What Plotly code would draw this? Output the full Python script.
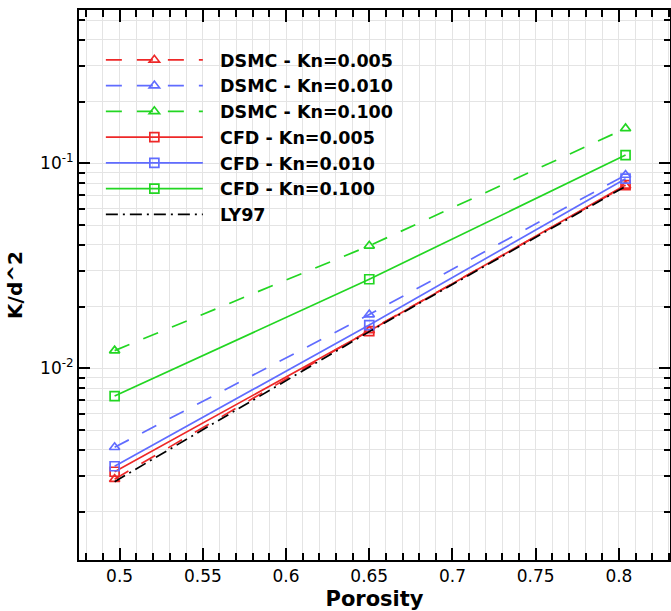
import plotly.graph_objects as go

porosity = [0.497, 0.65, 0.804]

dsmc_kn0005 = [0.00288, 0.0153, 0.0777]
dsmc_kn0010 = [0.00412, 0.0183, 0.0877]
dsmc_kn0100 = [0.0122, 0.0396, 0.148]
cfd_kn0005 = [0.00313, 0.0152, 0.0783]
cfd_kn0010 = [0.00333, 0.01626, 0.0842]
cfd_kn0100 = [0.00732, 0.0272, 0.1097]
ly97 = [0.0028, 0.0151, 0.0772]

x_tickvals = [0.5, 0.55, 0.6, 0.65, 0.7, 0.75, 0.8]
x_ticktext = ["0.5", "0.55", "0.6", "0.65", "0.7", "0.75", "0.8"]
y_tickvals = [0.01, 0.1]
y_ticktext = ["10<sup>-2</sup>", "10<sup>-1</sup>"]

RED = "rgb(238,40,40)"
BLUE = "rgb(96,108,255)"
GREEN = "rgb(34,214,34)"
FONT = "DejaVu Sans"
PAD = "\u00a0\u00a0"

fig = go.Figure()

def add(name, y, color, dash, symbol):
    fig.add_trace(go.Scatter(
        x=porosity, y=y, name=PAD + name, mode="lines+markers",
        line=dict(color=color, width=1.7, dash=dash),
        marker=dict(symbol=symbol, size=9, color=color, line=dict(width=1.7, color=color)),
    ))

DASH = "16px,15px"
add("DSMC - Kn=0.005", dsmc_kn0005, RED, DASH, "triangle-up-open")
add("DSMC - Kn=0.010", dsmc_kn0010, BLUE, DASH, "triangle-up-open")
add("DSMC - Kn=0.100", dsmc_kn0100, GREEN, DASH, "triangle-up-open")
add("CFD - Kn=0.005", cfd_kn0005, RED, "solid", "square-open")
add("CFD - Kn=0.010", cfd_kn0010, BLUE, "solid", "square-open")
add("CFD - Kn=0.100", cfd_kn0100, GREEN, "solid", "square-open")
fig.add_trace(go.Scatter(
    x=porosity, y=ly97, name=PAD + "LY97", mode="lines",
    line=dict(color="black", width=1.7, dash="12px,5px,2px,5px"),
))

minor_y = [k * 10 ** e for e in (-3, -2, -1) for k in range(2, 10)]
GRID = "rgb(228,228,228)"

fig.update_layout(
    width=672, height=611,
    margin=dict(l=79, r=0, t=10, b=51),
    paper_bgcolor="white", plot_bgcolor="white",
    font=dict(family=FONT, size=17, color="black"),
    showlegend=True,
    legend=dict(
        x=0.037, y=0.942, xanchor="left", yanchor="top",
        bgcolor="rgba(255,255,255,0)",
        font=dict(family=FONT, size=17.5, color="black", weight="bold"),
        itemwidth=97, tracegroupgap=0,
    ),
    xaxis=dict(
        range=[0.4756, 0.8307],
        tickmode="array", tickvals=x_tickvals, ticktext=x_ticktext,
        ticks="inside", ticklen=12, tickwidth=2, tickcolor="black",
        showline=True, linecolor="black", linewidth=2, mirror="allticks",
        showgrid=True, gridcolor=GRID, gridwidth=1, zeroline=False,
        tickfont=dict(family=FONT, size=17),
        minor=dict(dtick=0.01, tick0=0.5, ticks="inside", ticklen=7, tickwidth=1.5,
                   tickcolor="black", showgrid=True, gridcolor=GRID, gridwidth=1),
        title=dict(text="<b>Porosity</b>", font=dict(family=FONT, size=21), standoff=6),
    ),
    yaxis=dict(
        type="log", range=[-2.935, -0.252],
        tickmode="array", tickvals=y_tickvals, ticktext=y_ticktext,
        ticks="inside", ticklen=11, tickwidth=2, tickcolor="black",
        showline=True, linecolor="black", linewidth=2, mirror="allticks",
        showgrid=True, gridcolor=GRID, gridwidth=1, zeroline=False,
        tickfont=dict(family=FONT, size=17),
        minor=dict(tickmode="array", tickvals=minor_y, ticks="inside", ticklen=6, tickwidth=1.5,
                   tickcolor="black", showgrid=True, gridcolor=GRID, gridwidth=1),
        title=dict(text="<b>K/d^2</b>", font=dict(family=FONT, size=20), standoff=12),
    ),
)

fig.write_html("out.html")
